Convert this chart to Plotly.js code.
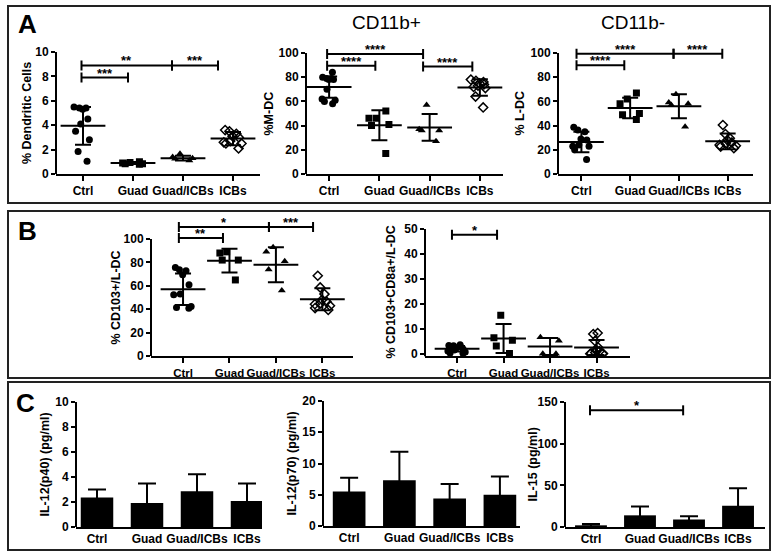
<!DOCTYPE html>
<html><head><meta charset="utf-8">
<script src="https://cdn.plot.ly/plotly-3.0.1.min.js"></script>
<style>body{margin:0;background:#fff}#chart{width:778px;height:552px}</style>
</head><body><div id="chart"></div>
<script>
// ---------- DATA ----------
const categories = ['Ctrl', 'Guad', 'Guad/ICBs', 'ICBs'];

// A1: % Dendritic Cells
const dcCtrl = [5.3, 5.4, 5.5, 5.4, 4.5, 4.1, 3.5, 2.8, 1.85, 1.05];
const dcGuad = [0.85, 0.95, 0.8, 0.9, 1.0, 0.85];
const dcGuadICB = [1.65, 1.4, 1.3, 1.25, 1.1];
const dcICB = [3.6, 3.5, 3.3, 3.1, 3.0, 2.7, 2.6, 2.5, 2.5, 2.1];
const dcMean = [3.95, 0.9, 1.3, 2.9];
const dcSD = [1.55, 0.08, 0.2, 0.55];
// significance brackets: [from (category position), to, level, label]
const dcSig = [[-0.03, 0.9, 7.9, '***'], [-0.03, 1.78, 8.9, '**'], [1.78, 2.7, 8.9, '***']];

// A2: %M-DC (CD11b+)
const mdcCtrl = [84, 79, 78, 80, 79, 78, 70, 62, 58, 60, 61];
const mdcGuad = [52, 46, 46, 41, 40, 17];
const mdcGuadICB = [57, 37, 36, 36, 27];
const mdcICB = [78, 77, 76, 75, 74, 73, 72, 71, 64, 55];
const mdcMean = [71.8, 40.2, 38.5, 71.5];
const mdcSD = [8.8, 12.4, 11, 6.8];
const mdcSig = [[-0.04, 0.92, 89.5, '****'], [-0.04, 1.87, 99.2, '****'], [1.87, 2.85, 88.8, '****']];

// A3: % L-DC (CD11b-)
const ldcCtrl = [38.6, 36.4, 35, 28, 24, 29, 23, 20, 23, 12];
const ldcGuad = [67, 62, 58, 50, 49, 45];
const ldcGuadICB = [66, 59, 58, 57, 39];
const ldcICB = [40.5, 33, 29.6, 28, 26, 25, 24, 22.7, 21.4, 23.3];
const ldcMean = [26.5, 54.5, 56, 27];
const ldcSD = [8.5, 8.5, 10, 6.5];
const ldcSig = [[-0.1, 0.88, 89.9, '****'], [-0.1, 1.89, 99.4, '****'], [1.89, 2.89, 99.4, '****']];

// B1: % CD103+/L-DC
const cd103Ctrl = [75.7, 73.7, 72.9, 69.4, 60.9, 52.9, 52.3, 42.3, 41.4, 40.9];
const cd103Guad = [89, 88, 82, 82, 65];
const cd103GuadICB = [93, 89, 81, 74, 56];
const cd103ICB = [68.6, 58.6, 52.9, 48, 46.6, 45, 44.3, 43, 41, 39.4];
const cd103Mean = [57, 81.5, 78, 48.5];
const cd103SD = [13.5, 10.2, 15, 9.3];
const cd103Sig = [[-0.09, 0.86, 100.9, '**'], [-0.09, 1.85, 110.3, '*'], [1.85, 2.8, 110.3, '***']];

// B2: % CD103+CD8a+/L-DC
const cd8Ctrl = [3.7, 3.4, 3.3, 3.1, 2.5, 2.0, 1.6, 1.2, 0.8, 0.4, 0.3];
const cd8Guad = [15.5, 6.5, 5.5, 3.2, 0.2];
const cd8GuadICB = [6.7, 5.3, 0.1, 0.1];
const cd8ICB = [8.4, 8.0, 5.2, 2.7, 1.7, 1.1, 0.6, 0.3, 0.2, 0.1, 0.1];
const cd8Mean = [2.1, 6.2, 3.0, 2.6];
const cd8SD = [1.1, 5.8, 3.4, 3.0];
const cd8Sig = [[-0.11, 0.86, 47.7, '*']];

// C: cytokines (mean, error)
const p40Mean = [2.35, 1.92, 2.85, 2.08];
const p40Err = [0.64, 1.55, 1.36, 1.39];
const p70Mean = [5.5, 7.3, 4.4, 5.0];
const p70Err = [2.2, 4.6, 2.3, 2.9];
const il15Mean = [2, 14, 9, 25.5];
const il15Err = [1.5, 10.5, 4, 21];
const il15Sig = [[-0.02, 1.88, 140, '*']];

// ---------- LAYOUT / DRAWING ----------
const W = 778, H = 552;
const FONT = 'Liberation Sans, Arial, Helvetica, sans-serif';
const groupSymbols = [
  {symbol: 'circle', size: 7, line: {width: 0}},
  {symbol: 'square', size: 7, line: {width: 0}},
  {symbol: 'triangle-up', size: 7, line: {width: 0}},
  {symbol: 'diamond-open', size: 7, line: {width: 1.5, color: '#000'}}
];

const traces = [];
const layout = {
  width: W, height: H, margin: {l: 0, r: 0, t: 0, b: 0},
  paper_bgcolor: '#fff', plot_bgcolor: 'rgba(0,0,0,0)',
  showlegend: false, boxmode: 'overlay', bargap: 0.35,
  font: {family: FONT, color: '#000'},
  shapes: [], annotations: []
};

function addPanel(k, g, spec) {
  const xa = k === 1 ? 'x' : 'x' + k, ya = k === 1 ? 'y' : 'y' + k;
  const xName = k === 1 ? 'xaxis' : 'xaxis' + k, yName = k === 1 ? 'yaxis' : 'yaxis' + k;
  const ppu = (g.y0 - g.yt) / g.top;
  const yMin = g.ymin || 0;
  const yMax = g.top * (1 + (g.ext || 0.12));
  const bottomPx = g.y0 - yMin * ppu, topPx = g.y0 - yMax * ppu;
  const tickvals = [];
  for (let v = 0; v <= g.top + 1e-9; v += g.dtick) tickvals.push(v);
  const isBar = !spec.groups;
  layout[xName] = {
    domain: [g.x0 / W, g.x1 / W], range: g.xr, type: 'category',
    categoryorder: 'array', categoryarray: categories, anchor: ya,
    showline: true, linewidth: 2, linecolor: '#000', ticks: isBar ? '' : 'outside', ticklen: 5,
    tickwidth: 2, tickcolor: '#000', tickangle: 0, showgrid: false, zeroline: false,
    tickfont: {family: FONT, size: g.xfs || 12, weight: 'bold', color: '#000'}, fixedrange: true
  };
  layout[yName] = {
    domain: [1 - bottomPx / H, 1 - topPx / H], range: [yMin, yMax], anchor: xa,
    showline: false, ticks: 'outside', ticklen: 4, tickwidth: 2, tickcolor: '#000',
    tickmode: 'array', tickvals: tickvals, showgrid: false, zeroline: false,
    tickfont: {family: FONT, size: 12, weight: 'bold', color: '#000'}, fixedrange: true
  };
  // y axis line (only up to the top tick)
  layout.shapes.push({type: 'line', xref: 'paper', yref: 'paper',
    x0: g.x0 / W, x1: g.x0 / W, y0: 1 - bottomPx / H, y1: 1 - g.yt / H,
    line: {width: 2, color: '#000'}});
  // y axis title
  layout.annotations.push({xref: 'paper', yref: 'paper', x: g.tx / W, y: 1 - ((g.y0 + g.yt) / 2) / H,
    text: spec.ytitle, textangle: -90, showarrow: false, xanchor: 'center', yanchor: 'middle',
    font: {family: FONT, size: 12.5, weight: 'bold', color: '#000'}});

  if (!isBar) {
    spec.groups.forEach((vals, i) => {
      traces.push({
        type: 'box', x: vals.map(() => categories[i]), y: vals, xaxis: xa, yaxis: ya,
        boxpoints: 'all', jitter: 1.0, pointpos: 0, whiskerwidth: 0,
        fillcolor: 'rgba(0,0,0,0)', line: {color: 'rgba(0,0,0,0)', width: 0},
        marker: Object.assign({color: '#000'}, groupSymbols[i]),
        hoverinfo: 'skip', showlegend: false
      });
    });
    traces.push({
      type: 'scatter', mode: 'markers', x: categories, y: spec.mean, xaxis: xa, yaxis: ya,
      marker: {symbol: 'line-ew', size: 32, color: '#000', line: {width: 2, color: '#000'}},
      error_y: {type: 'data', array: spec.sd, visible: true, color: '#000', thickness: 2, width: 8},
      cliponaxis: false, hoverinfo: 'skip'
    });
  } else {
    traces.push({
      type: 'bar', x: categories, y: spec.mean, xaxis: xa, yaxis: ya,
      marker: {color: '#000', line: {width: 0}},
      error_y: {type: 'data', array: spec.err, visible: true, color: '#000', thickness: 2, width: 9},
      hoverinfo: 'skip'
    });
  }
  (spec.sig || []).forEach(s => {
    const [i, j, yv, label] = s;
    layout.shapes.push({type: 'line', xref: xa, yref: ya, x0: i, x1: j, y0: yv, y1: yv, line: {width: 2, color: '#000'}});
    [i, j].forEach(c => layout.shapes.push({type: 'line', xref: xa, yref: ya, x0: c, x1: c,
      ysizemode: 'pixel', yanchor: yv, y0: -5, y1: 5, line: {width: 2, color: '#000'}}));
    layout.annotations.push({xref: xa, yref: ya, x: (i + j) / 2, y: yv, text: label, showarrow: false,
      yanchor: 'bottom', yshift: -5, font: {family: FONT, size: 13, weight: 'bold', color: '#000'}});
  });
}

addPanel(1, {x0: 56, x1: 260, xr: [-0.54, 3.54], y0: 174, yt: 52, top: 10, dtick: 2, tx: 27},
  {ytitle: '% Dendritic Cells', groups: [dcCtrl, dcGuad, dcGuadICB, dcICB], mean: dcMean, sd: dcSD, sig: dcSig});
addPanel(2, {x0: 306, x1: 503, xr: [-0.46, 3.46], y0: 174, yt: 53, top: 100, dtick: 20, tx: 269},
  {ytitle: '%M-DC', groups: [mdcCtrl, mdcGuad, mdcGuadICB, mdcICB], mean: mdcMean, sd: mdcSD, sig: mdcSig});
addPanel(3, {x0: 558, x1: 753, xr: [-0.48, 3.52], y0: 174, yt: 53, top: 100, dtick: 20, tx: 520},
  {ytitle: '% L-DC', groups: [ldcCtrl, ldcGuad, ldcGuadICB, ldcICB], mean: ldcMean, sd: ldcSD, sig: ldcSig});
addPanel(4, {x0: 151, x1: 353, xr: [-0.69, 3.66], y0: 356, yt: 239, top: 100, dtick: 20, ext: 0.16, tx: 115, xfs: 11.5},
  {ytitle: '% CD103+/L-DC', groups: [cd103Ctrl, cd103Guad, cd103GuadICB, cd103ICB], mean: cd103Mean, sd: cd103SD, sig: cd103Sig});
addPanel(5, {x0: 425, x1: 630, xr: [-0.69, 3.72], y0: 354, yt: 229, top: 50, dtick: 10, ymin: -0.9, tx: 390, xfs: 11.5},
  {ytitle: '% CD103+CD8a+/L-DC', groups: [cd8Ctrl, cd8Guad, cd8GuadICB, cd8ICB], mean: cd8Mean, sd: cd8SD, sig: cd8Sig});
addPanel(6, {x0: 76, x1: 262, xr: [-0.42, 3.3], y0: 527, yt: 402, top: 10, dtick: 2, ext: 0.02, tx: 44},
  {ytitle: 'IL-12(p40) (pg/ml)', mean: p40Mean, err: p40Err});
addPanel(7, {x0: 323, x1: 520, xr: [-0.52, 3.4], y0: 526, yt: 401, top: 20, dtick: 5, ext: 0.02, tx: 291},
  {ytitle: 'IL-12(p70) (pg/ml)', mean: p70Mean, err: p70Err});
addPanel(8, {x0: 565, x1: 765, xr: [-0.53, 3.55], y0: 527, yt: 402, top: 150, dtick: 50, ext: 0.04, tx: 532},
  {ytitle: 'IL-15 (pg/ml)', mean: il15Mean, err: il15Err, sig: il15Sig});

// panel frames
[[8, 6, 770, 203], [8, 211, 770, 378], [8, 382, 770, 550]].forEach(b => {
  layout.shapes.push({type: 'rect', xref: 'paper', yref: 'paper',
    x0: b[0] / W, x1: b[2] / W, y0: 1 - b[3] / H, y1: 1 - b[1] / H,
    line: {width: 2, color: '#222'}, fillcolor: 'rgba(0,0,0,0)'});
});
// panel letters and headings
[['A', 27, 24], ['B', 27, 231], ['C', 26, 403]].forEach(p => {
  layout.annotations.push({xref: 'paper', yref: 'paper', x: p[1] / W, y: 1 - p[2] / H, text: p[0],
    showarrow: false, xanchor: 'center', yanchor: 'middle', font: {family: FONT, size: 26, weight: 'bold', color: '#000'}});
});
[['CD11b+', 386, 23], ['CD11b-', 633, 23]].forEach(p => {
  layout.annotations.push({xref: 'paper', yref: 'paper', x: p[1] / W, y: 1 - p[2] / H, text: p[0],
    showarrow: false, xanchor: 'center', yanchor: 'middle', font: {family: FONT, size: 19, color: '#000'}});
});

Plotly.newPlot('chart', traces, layout, {staticPlot: true, displayModeBar: false});
</script></body></html>
